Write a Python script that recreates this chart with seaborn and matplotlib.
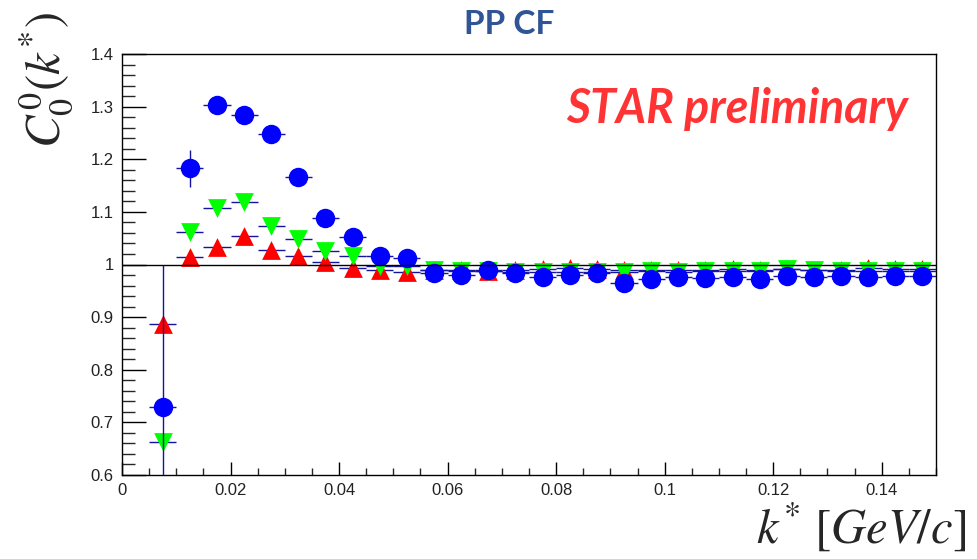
import matplotlib
matplotlib.use("Agg")
import matplotlib.pyplot as plt
import seaborn as sns
from matplotlib.ticker import FixedLocator, FixedFormatter, MultipleLocator

# k* bin centres [GeV/c]
k_star = [0.0075, 0.0125, 0.0175, 0.0225, 0.0275, 0.0325, 0.0375, 0.0425,
          0.0475, 0.0525, 0.0575, 0.0625, 0.0675, 0.0725, 0.0775, 0.0825,
          0.0875, 0.0925, 0.0975, 0.1025, 0.1075, 0.1125, 0.1175, 0.1225,
          0.1275, 0.1325, 0.1375, 0.1425, 0.1475]
bin_half_width = 0.0025

# correlation function C_0^0(k*) for the three samples
cf_blue = [0.730, 1.183, 1.304, 1.285, 1.248, 1.166, 1.089, 1.053,
           1.017, 1.013, 0.984, 0.980, 0.989, 0.984, 0.976, 0.980,
           0.984, 0.965, 0.972, 0.976, 0.974, 0.976, 0.972, 0.978,
           0.976, 0.979, 0.976, 0.979, 0.978]
err_blue = [0.270, 0.035, 0.014, 0.012, 0.010, 0.009, 0.008, 0.007,
            0.006, 0.006, 0.005, 0.005, 0.005, 0.005, 0.005, 0.005,
            0.005, 0.005, 0.005, 0.005, 0.005, 0.005, 0.005, 0.005,
            0.005, 0.005, 0.005, 0.005, 0.005]

cf_green = [0.663, 1.061, 1.108, 1.119, 1.073, 1.048, 1.025, 1.016,
            0.998, 0.998, 0.990, 0.988, 0.988, 0.985, 0.985, 0.985,
            0.985, 0.985, 0.987, 0.985, 0.987, 0.987, 0.987, 0.991,
            0.989, 0.987, 0.987, 0.987, 0.987]
err_green = [0.010, 0.008, 0.007, 0.006, 0.005, 0.005, 0.004, 0.004,
             0.004, 0.004, 0.003, 0.003, 0.003, 0.003, 0.003, 0.003,
             0.003, 0.003, 0.003, 0.003, 0.003, 0.003, 0.003, 0.003,
             0.003, 0.003, 0.003, 0.003, 0.003]

cf_red = [0.887, 1.015, 1.033, 1.055, 1.027, 1.016, 1.004, 0.993,
          0.990, 0.985, 0.990, 0.990, 0.988, 0.990, 0.992, 0.994,
          0.992, 0.989, 0.990, 0.989, 0.989, 0.991, 0.990, 0.991,
          0.990, 0.990, 0.993, 0.991, 0.991]
err_red = [0.010, 0.008, 0.007, 0.006, 0.005, 0.005, 0.004, 0.004,
           0.004, 0.004, 0.003, 0.003, 0.003, 0.003, 0.003, 0.003,
           0.003, 0.003, 0.003, 0.003, 0.003, 0.003, 0.003, 0.003,
           0.003, 0.003, 0.003, 0.003, 0.003]

x_ticks = [0, 0.02, 0.04, 0.06, 0.08, 0.10, 0.12, 0.14]
x_tick_labels = ["0", "0.02", "0.04", "0.06", "0.08", "0.1", "0.12", "0.14"]
y_ticks = [0.6, 0.7, 0.8, 0.9, 1.0, 1.1, 1.2, 1.3, 1.4]
y_tick_labels = ["0.6", "0.7", "0.8", "0.9", "1", "1.1", "1.2", "1.3", "1.4"]

sns.set_style("ticks")
plt.rcParams["font.family"] = ["Liberation Sans", "DejaVu Sans"]
plt.rcParams["mathtext.fontset"] = "stix"

fig = plt.figure(figsize=(9.78, 5.59), dpi=100)
ax = fig.add_axes([122 / 978, 1 - 475 / 559, (936 - 122) / 978, (475 - 54) / 559])

err_color = "#1414a0"
series = [
    (cf_red, err_red, "^", "#ff0000", 13.5, 2),
    (cf_green, err_green, "v", "#00ff00", 13.5, 4),
    (cf_blue, err_blue, "o", "#0000ff", 14.0, 6),
]
for vals, errs, mk, col, msize, z in series:
    ax.errorbar(k_star, vals, xerr=bin_half_width, yerr=errs, fmt="none",
                ecolor=err_color, elinewidth=1.0, capsize=0, zorder=z)
    sns.scatterplot(x=k_star, y=vals, marker=mk, s=msize ** 2, color=col,
                    linewidth=0, ax=ax, zorder=z + 0.5, legend=False)

ax.axhline(1.0, color="black", lw=1.0, zorder=10)

ax.set_xlim(0, 0.15)
ax.set_ylim(0.6, 1.4)
ax.xaxis.set_major_locator(FixedLocator(x_ticks))
ax.xaxis.set_major_formatter(FixedFormatter(x_tick_labels))
ax.xaxis.set_minor_locator(MultipleLocator(0.005))
ax.yaxis.set_major_locator(FixedLocator(y_ticks))
ax.yaxis.set_major_formatter(FixedFormatter(y_tick_labels))
ax.yaxis.set_minor_locator(MultipleLocator(0.02))

ax.tick_params(axis="x", which="major", direction="in", length=9.5, width=1,
               labelsize=12, pad=6, colors="black", labelcolor="#222222")
ax.tick_params(axis="x", which="minor", direction="in", length=5, width=1)
ax.tick_params(axis="y", which="major", direction="in", length=17, width=1,
               labelsize=12, pad=6, colors="black", labelcolor="#222222")
ax.tick_params(axis="y", which="minor", direction="in", length=9, width=1)
ax.tick_params(top=False, right=False, which="both")
for sp in ax.spines.values():
    sp.set_linewidth(1.0)
    sp.set_color("black")
ax.set_xlabel("")
ax.set_ylabel("")

fig.text(509 / 978, 1 - 24 / 559, "PP CF", ha="center", va="center",
         fontsize=24, fontweight="bold", color="#2f5597", family=["Lato", "DejaVu Sans"])
fig.text(566 / 978, 1 - 123 / 559, "STAR preliminary", ha="left", va="baseline",
         fontsize=33.5, fontweight="bold", style="italic", color="#ff3333",
         family=["Lato", "DejaVu Sans"])

fig.text(46 / 978, 1 - 12 / 559, r"$C_0^0(k^{*})$", rotation=90, ha="center",
         va="top", fontsize=35)
fig.text(966 / 978, 6 / 559, r"$k^{*}\ [GeV/c]$", ha="right", va="bottom",
         fontsize=35)

fig.savefig("out.png", dpi=100)
